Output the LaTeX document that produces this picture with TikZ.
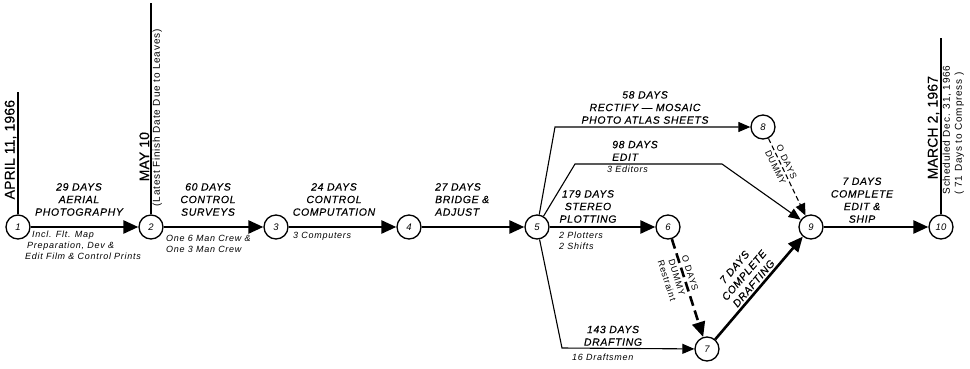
\documentclass[tikz,border=0pt]{standalone}
\usepackage{fontspec}
\setmainfont{Liberation Sans}
\newfontfamily\actfam[LetterSpace=6,FakeBold=0.4]{Liberation Sans}
\newfontfamily\notefam[LetterSpace=8]{Liberation Sans}
\newfontfamily\datefam[LetterSpace=1,FakeBold=0.3]{Liberation Sans}
\usetikzlibrary{arrows.meta}
\tikzset{
  ev/.style={circle, draw, line width=1.3pt, minimum size=24pt, inner sep=0pt, fill=white,
    font=\fontsize{9.5}{9.5}\selectfont\itshape},
  crit/.style={line width=2.6pt, -{Triangle[length=15pt,width=13pt]}},
  thinact/.style={line width=1.1pt, -{Triangle[length=12pt,width=10pt]}},
  act/.style={font=\actfam\itshape\fontsize{10.5}{12.6}\selectfont, align=center, inner sep=0pt},
  note/.style={font=\notefam\itshape\fontsize{9}{11}\selectfont, align=left, inner sep=0pt},
  datel/.style={font=\datefam\fontsize{14}{16}\selectfont, rotate=90, inner sep=1.5pt},
  dnote/.style={font=\notefam\fontsize{10}{12}\selectfont, rotate=90, inner sep=1.5pt, align=left},
  dum/.style={font=\notefam\fontsize{9}{10.5}\selectfont, align=center, inner sep=2.5pt},
  milestone/.style={line width=1.2pt},
}
\begin{document}
\begin{tikzpicture}[x=1pt,y=-1pt]
\useasboundingbox (0,0) rectangle (970,368);
% events
\node[ev] (n1) at (18,227) {1};
\node[ev] (n2) at (151,227) {2};
\node[ev] (n3) at (276,227) {3};
\node[ev] (n4) at (409,227) {4};
\node[ev] (n5) at (537,227) {5};
\node[ev] (n6) at (668,227) {6};
\node[ev] (n7) at (707,349) {7};
\node[ev] (n8) at (763,127) {8};
\node[ev] (n9) at (811,227) {9};
\node[ev] (n10) at (941,227) {10};
% milestone lines
\coordinate (t1) at (18,92);
\coordinate (t2) at (151,3);
\coordinate (t10) at (941,38);
\draw[milestone] (n1) -- (t1);
\draw[milestone] (n2) -- (t2);
\draw[milestone] (n10) -- (t10);
\node[datel, anchor=south west] (d1) at (18,201) {APRIL 11, 1966};
\node[datel, anchor=south west] (d2) at (151,183) {MAY 10};
\node[dnote, anchor=north west] (d2b) at (151,208) {(Latest Finish Date Due to Leaves)};
\node[datel, anchor=south west] (d10) at (941,181) {MARCH 2, 1967};
\node[dnote, anchor=north west] (d10b) at (941,196) {Scheduled Dec. 31, 1966\\( 71 Days to Compress )};
% critical path
\draw[crit] (n1) -- (n2);
\draw[crit] (n2) -- (n3);
\draw[crit] (n3) -- (n4);
\draw[crit] (n4) -- (n5);
\draw[crit] (n5) -- (n6);
\draw[crit, dash pattern=on 10pt off 5pt] (n6) --
  node[dum, pos=0.37, sloped, above] (l67a) {O DAYS}
  node[dum, pos=0.37, sloped, below] (l67b) {DUMMY\\Restraint} (n7);
\draw[crit] (n7) -- node[act, sloped, above, inner sep=2pt] (l79) {7 DAYS\\COMPLETE\\DRAFTING} (n9);
\draw[crit] (n9) -- (n10);
% other activities
\coordinate (c58) at (555,127);
\draw[thinact] (n5) -- (c58) -- (n8);
\coordinate (c59a) at (575,164);
\coordinate (c59b) at (722,164);
\draw[thinact] (n5) -- (c59a) -- (c59b) -- (n9);
\coordinate (c57) at (562,348);
\draw[thinact] (n5) -- (c57) -- (n7);
\draw[thinact, dash pattern=on 5pt off 3pt] (n8) --
  node[dum, pos=0.34, sloped, above] (l89a) {O DAYS}
  node[dum, pos=0.34, sloped, below] (l89b) {DUMMY} (n9);
% labels
\node[act, anchor=south] (a12) at (79,216) {29 DAYS\\AERIAL\\PHOTOGRAPHY};
\node[note, anchor=north west] (b12) at (25,231) {\hspace{7pt}Incl. Flt. Map\\\hspace{2pt}Preparation, Dev \&\\Edit Film \& Control Prints};
\node[act, anchor=south] (a23) at (208,216) {60 DAYS\\CONTROL\\SURVEYS};
\node[note, anchor=north west] (b23) at (166,235) {One 6 Man Crew \&\\One 3 Man Crew};
\node[act, anchor=south] (a34) at (334,216) {24 DAYS\\CONTROL\\COMPUTATION};
\node[note, anchor=north west] (b34) at (293,232) {3 Computers};
\node[act, anchor=south west, align=left] (a45) at (435,216) {27 DAYS\\BRIDGE \&\\ADJUST};
\node[act, anchor=south] (a56) at (588,223) {179 DAYS\\STEREO\\PLOTTING};
\node[note, anchor=north west] (b56) at (559,232) {2 Plotters\\2 Shifts};
\node[act, anchor=south] (a58) at (645,124) {58 DAYS\\RECTIFY — MOSAIC\\PHOTO ATLAS SHEETS};
\node[act, anchor=south west, align=left] (a59) at (612,161) {98 DAYS\\EDIT};
\node[note, anchor=north west] (b59) at (607,166) {3 Editors};
\node[act, anchor=south] (a57) at (613,346) {143 DAYS\\DRAFTING};
\node[note, anchor=north west] (b57) at (572,354) {16 Draftsmen};
\node[act, anchor=south] (a910) at (862,223) {7 DAYS\\COMPLETE\\EDIT \&\\SHIP};
\end{tikzpicture}
\end{document}
